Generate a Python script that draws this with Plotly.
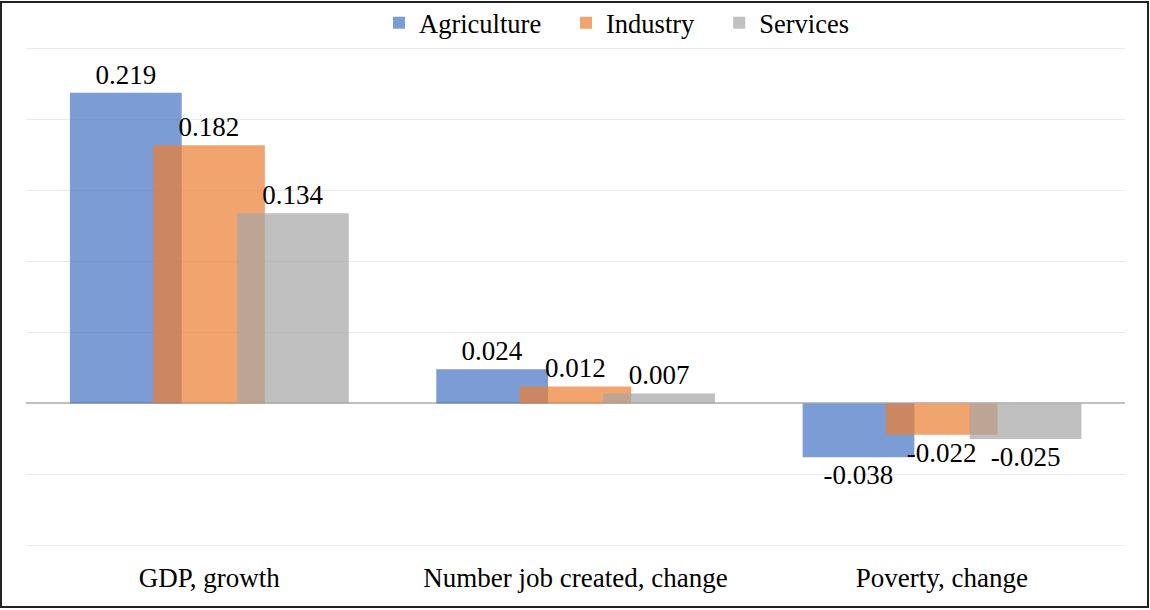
import plotly.graph_objects as go

categories = ["GDP, growth", "Number job created, change", "Poverty, change"]
agriculture = [0.219, 0.024, -0.038]
industry = [0.182, 0.012, -0.022]
services = [0.134, 0.007, -0.025]

NB = "\u00a0"
series = [
    ("Agriculture", agriculture, "rgba(68,114,196,0.7)", -0.38, NB * 3),
    ("Industry", industry, "rgba(237,125,49,0.7)", -0.153, NB * 3),
    ("Services", services, "rgba(165,165,165,0.7)", 0.076, ""),
]

W, H = 1150, 610
L, R, T, B = 26, 1125, 47, 547
FONT = "Liberation Serif"

fig = go.Figure()
for name, vals, color, off, pad in series:
    fig.add_trace(go.Bar(
        x=categories, y=vals, name=name + pad,
        marker=dict(color=color, line=dict(width=0)),
        width=0.305, offset=off,
        text=[f"{v:.3f}" for v in vals], textposition="outside",
        textfont=dict(family=FONT, size=27, color="black"),
        cliponaxis=False,
    ))

fig.update_layout(
    width=W, height=H,
    barmode="overlay",
    margin=dict(l=L, r=W - R, t=T, b=H - B, autoexpand=False),
    paper_bgcolor="white", plot_bgcolor="white",
    font=dict(family=FONT, size=27, color="black"),
    legend=dict(orientation="h", x=(379 - L) / (R - L), xanchor="left", xref="paper",
                yref="container", y=1 - 23 / H, yanchor="middle",
                font=dict(size=26.5), itemwidth=30,
                bgcolor="rgba(0,0,0,0)", tracegroupgap=0),
    xaxis=dict(showgrid=False, showline=False, ticks="",
               tickfont=dict(size=27), ticklabelstandoff=12),
    yaxis=dict(range=[-0.1012, 0.2512], tickvals=[-0.1, -0.05, 0, 0.05, 0.1, 0.15, 0.2, 0.25],
               showticklabels=False,
               gridcolor="#e9e9e9", gridwidth=1,
               zeroline=True, zerolinecolor="#bfbfbf", zerolinewidth=2),
    shapes=[dict(type="rect", xref="paper", yref="paper",
                 x0=(1 - L) / (R - L), x1=(1148 - L) / (R - L),
                 y0=(B - 607) / (B - T), y1=(B - 2) / (B - T),
                 line=dict(color="#222222", width=2), fillcolor="rgba(0,0,0,0)")],
)

fig.write_html("out.html", config={"displayModeBar": False},
               post_script="document.body.style.margin='0';document.body.style.overflow='hidden';")
